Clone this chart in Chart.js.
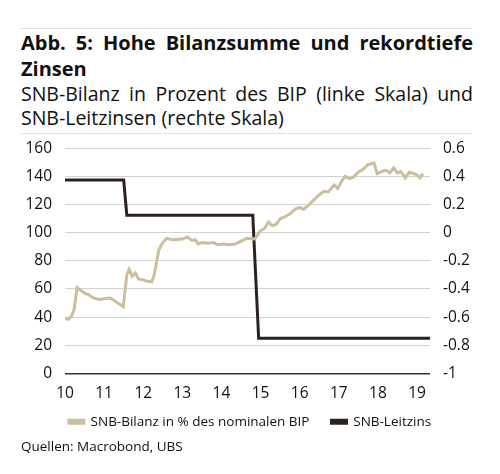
<!DOCTYPE html>
<html>
<head>
<meta charset="utf-8">
<script src="https://cdn.jsdelivr.net/npm/chart.js@4.4.0/dist/chart.umd.min.js"></script>
<style>
  html, body { margin: 0; padding: 0; background: #fff; }
  body { width: 500px; height: 474px; position: relative; overflow: hidden; font-family: "Open Sans", sans-serif; color: #111; }
  #head { position: absolute; left: 21px; top: 28px; width: 452px; border-top: 1px solid #e2e2e2; padding-top: 1px; }
  .j { text-align: justify; text-align-last: justify; }
  .t { font-size: 20px; font-weight: bold; line-height: 26px; }
  .s { font-size: 19.5px; line-height: 24px; }
  #rule { position: absolute; left: 21px; top: 133px; width: 452px; border-top: 1px solid #e2e2e2; }
  #wrap { position: absolute; left: 0; top: 126px; width: 500px; height: 325px; }
  #src { position: absolute; left: 21px; top: 437px; font-size: 13.5px; }
</style>
</head>
<body>
<div id="head">
  <div class="t j">Abb. 5: Hohe Bilanzsumme und rekordtiefe</div>
  <div class="t">Zinsen</div>
  <div class="s j">SNB-Bilanz in Prozent des BIP (linke Skala) und</div>
  <div class="s">SNB-Leitzinsen (rechte Skala)</div>
</div>
<div id="rule"></div>
<div id="wrap"><canvas id="chart"></canvas></div>
<div id="src">Quellen: Macrobond, UBS</div>
<script>
// SNB-Bilanz in % des BIP (Jahr 10 = 2010)
const bilanzJahr = [10.0, 10.08, 10.17, 10.23, 10.31, 10.4, 10.5, 10.6, 10.7, 10.8, 10.9, 11.0, 11.15, 11.25, 11.35, 11.49,
  11.58, 11.64, 11.72, 11.8, 11.88, 12.0, 12.1, 12.22, 12.28, 12.4, 12.5, 12.6, 12.75, 13.0, 13.12, 13.25, 13.33, 13.4,
  13.5, 13.65, 13.8, 13.9, 14.05, 14.2, 14.35, 14.5, 14.65, 14.85, 15.0, 15.1, 15.2, 15.3, 15.4, 15.5, 15.6, 15.75, 15.9,
  16.0, 16.1, 16.2, 16.35, 16.5, 16.62, 16.73, 16.88, 16.97, 17.08, 17.16, 17.28, 17.37, 17.5, 17.62, 17.75, 17.9, 17.98,
  18.1, 18.2, 18.3, 18.4, 18.5, 18.58, 18.7, 18.8, 18.92, 19.0, 19.07, 19.15];
const bilanzWert = [39, 38.5, 41, 45, 61, 59, 57, 56, 54, 53, 52.5, 53, 53.5, 52, 50, 47.5,
  70, 74, 69, 71.5, 67, 66.5, 65.5, 65, 70, 88, 93, 96, 95, 95.5, 97, 94.5, 95, 92,
  93, 92.5, 93, 91.5, 92, 91.5, 92, 94, 96, 95.5, 101.5, 103, 107.5, 105, 106, 110, 111, 113.5, 117,
  118, 116.5, 119, 123, 127, 129.5, 129, 134, 131.5, 137, 140, 138.5, 139.5, 143, 145, 148.5, 149.5, 142,
  143.5, 144.5, 142.5, 146, 142.5, 143.5, 139, 143, 142, 141, 139, 142];

// SNB-Leitzins (rechte Skala)
const zinsJahr = [10.0, 11.5, 11.58, 14.8, 14.95, 19.33];
const zinsWert = [0.375, 0.375, 0.125, 0.125, -0.75, -0.75];

const xMin = 10, xMax = 19.33;

const ctx = document.getElementById("chart");

Chart.defaults.font.family = "Open Sans";
Chart.defaults.color = "#111";

// legend: keep the wide gap between items but pull it closer to the axis
const legendTweak = {
  id: "legendTweak",
  afterInit(chart) {
    const fit = chart.legend.fit;
    chart.legend.fit = function () {
      fit.call(this);
      this.height = 45;
    };
  },
  afterLayout(chart) {
    chart.legend.top -= 13;
    chart.legend.bottom -= 13;
  },
};

new Chart(ctx, {
  type: "line",
  data: {
    datasets: [
      {
        label: "SNB-Bilanz in % des nominalen BIP",
        data: bilanzJahr.map((x, i) => ({ x: x, y: bilanzWert[i] })),
        borderColor: "#cbbf9f",
        backgroundColor: "#cbbf9f",
        borderWidth: 3,
        yAxisID: "y",
      },
      {
        label: "SNB-Leitzins",
        data: zinsJahr.map((x, i) => ({ x: x, y: zinsWert[i] })),
        borderColor: "#2b221d",
        backgroundColor: "#2b221d",
        borderWidth: 3,
        yAxisID: "y1",
      },
    ],
  },
  plugins: [legendTweak],
  options: {
    animation: false,
    responsive: true,
    maintainAspectRatio: false,
    elements: {
      point: { radius: 0 },
      line: { tension: 0, borderJoinStyle: "miter" },
    },
    layout: { padding: { top: 3, left: 0, right: 0, bottom: 0 } },
    plugins: {
      legend: {
        position: "bottom",
        labels: {
          boxWidth: 15,
          boxHeight: 3,
          padding: 22,
          font: { size: 13.5 },
          color: "#111",
        },
      },
      tooltip: { enabled: false },
    },
    scales: {
      x: {
        type: "linear",
        min: xMin,
        max: xMax,
        grid: { display: false },
        border: { display: false },
        ticks: {
          stepSize: 1,
          includeBounds: false,
          padding: 3,
          font: { size: 15.5 },
          callback: (v) => String(v),
        },
      },
      y: {
        position: "left",
        min: 0,
        max: 160,
        border: { display: false },
        grid: {
          drawTicks: false,
          color: (c) => (c.tick && c.tick.value === 0 ? "#333" : "#d2d2d2"),
          lineWidth: (c) => (c.tick && c.tick.value === 0 ? 1.5 : 1),
        },
        ticks: { stepSize: 20, padding: 13, font: { size: 15.5 } },
        afterFit: (s) => { s.width = 65; },
      },
      y1: {
        position: "right",
        min: -1,
        max: 0.6,
        border: { display: false },
        grid: { display: false, drawTicks: false },
        ticks: {
          stepSize: 0.2,
          padding: 13,
          font: { size: 15.5 },
          callback: (v) => String(Math.round(v * 10) / 10),
        },
        afterFit: (s) => { s.width = 70; },
      },
    },
  },
});
</script>
</body>
</html>
